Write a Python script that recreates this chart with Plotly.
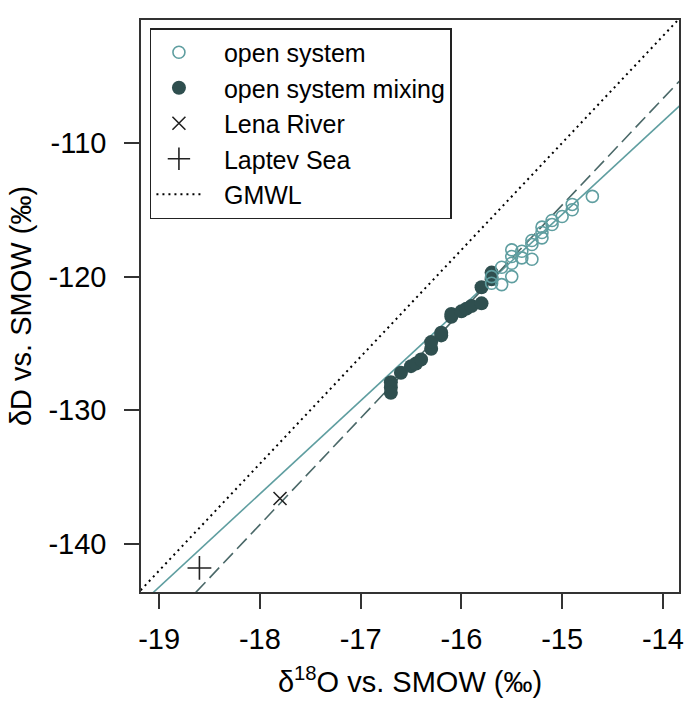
import numpy as np
import plotly.graph_objects as go

# ---- data ----
open_x = [-14.7, -14.9, -14.9, -15.0, -15.1, -15.1, -15.2, -15.2, -15.2, -15.3, -15.3,
          -15.3, -15.4, -15.5, -15.5, -15.4, -15.5, -15.6, -15.5, -15.6, -15.7, -15.7]
open_y = [-114.0, -114.6, -115.0, -115.5, -115.8, -116.1, -116.3, -116.7, -117.1, -117.3, -117.6,
          -118.7, -118.1, -118.0, -118.5, -118.6, -119.0, -119.3, -120.0, -120.6, -120.0, -120.5]

mix_x = [-16.7, -16.7, -16.7, -16.6, -16.5, -16.45, -16.4, -16.3, -16.3, -16.2, -16.2,
         -16.1, -16.1, -16.0, -15.95, -15.9, -15.8, -15.8, -15.7, -15.7]
mix_y = [-127.9, -128.3, -128.7, -127.2, -126.7, -126.5, -126.2, -125.4, -124.9, -124.4, -124.2,
         -123.0, -122.8, -122.6, -122.4, -122.2, -122.0, -120.8, -119.7, -120.2]

lena_x = [-17.8]
lena_y = [-136.6]
laptev_x = [-18.6]
laptev_y = [-141.8]

# lines: (slope, intercept)
gmwl = (8.0, 10.0)
open_fit = (6.97, -10.8)
mix_fit = (7.97, 4.9)
line_x = np.array([-20.0, -13.0])

x_ticks = [-19, -18, -17, -16, -15, -14]
x_ticklabels = ["-19", "-18", "-17", "-16", "-15", "-14"]
y_ticks = [-110, -120, -130, -140]
y_ticklabels = ["-110", "-120", "-130", "-140"]

# ---- styles ----
TEAL = "#5f9ea0"
DARK = "#2f4f4f"
DASH = "#4a6868"
FONT = "Liberation Sans, Arial, sans-serif"
PAD = "\u2002\u2009"  # small lead-in so legend text sits where the reference has it

fig = go.Figure()

fig.add_trace(go.Scatter(x=line_x, y=gmwl[0] * line_x + gmwl[1], mode="lines",
                         line=dict(color="black", width=2, dash="2px,4px"),
                         name=PAD + "GMWL", legendrank=5))
fig.add_trace(go.Scatter(x=line_x, y=open_fit[0] * line_x + open_fit[1], mode="lines",
                         line=dict(color=TEAL, width=1.6), showlegend=False))
fig.add_trace(go.Scatter(x=line_x, y=mix_fit[0] * line_x + mix_fit[1], mode="lines",
                         line=dict(color=DASH, width=1.6, dash="14px,6px"), showlegend=False))

fig.add_trace(go.Scatter(x=mix_x, y=mix_y, mode="markers", name=PAD + "open system mixing",
                         marker=dict(symbol="circle", size=14, color=DARK),
                         legendrank=2))
fig.add_trace(go.Scatter(x=open_x, y=open_y, mode="markers", name=PAD + "open system",
                         marker=dict(symbol="circle-open", size=12, color=TEAL,
                                     line=dict(width=1.6, color=TEAL)),
                         legendrank=1))
fig.add_trace(go.Scatter(x=lena_x, y=lena_y, mode="markers", name=PAD + "Lena River",
                         marker=dict(symbol="x-thin-open", size=13, color="#222",
                                     line=dict(width=1.6, color="#222")),
                         legendrank=3))
fig.add_trace(go.Scatter(x=laptev_x, y=laptev_y, mode="markers", name=PAD + "Laptev Sea",
                         marker=dict(symbol="cross-thin-open", size=17, color="#222",
                                     line=dict(width=1.6, color="#222")),
                         legendrank=4))

axis_common = dict(showgrid=False, zeroline=False, showline=True, mirror=True,
                   linecolor="#333", linewidth=1.5, ticks="outside", ticklen=15,
                   tickwidth=1.5, tickcolor="#333",
                   tickfont=dict(family=FONT, size=29, color="black"),
                   title_font=dict(family=FONT, size=29, color="black"))

fig.update_xaxes(range=[-19.18, -13.84], tickvals=x_ticks, ticktext=x_ticklabels,
                 ticklabelstandoff=5,
                 title_text="δ<sup>18</sup>O vs. SMOW (‰)", title_standoff=18, **axis_common)
fig.update_yaxes(range=[-143.6, -100.8], tickvals=y_ticks, ticktext=y_ticklabels,
                 ticklabelstandoff=12,
                 title_text="δD vs. SMOW (‰)", title_standoff=8, **axis_common)

fig.update_layout(
    width=689, height=704,
    margin=dict(l=141, r=5, t=20, b=112),
    plot_bgcolor="white", paper_bgcolor="white",
    font=dict(family=FONT, size=25, color="black"),
    legend=dict(x=0.0166, y=0.986, xanchor="left", yanchor="top",
                bgcolor="white", bordercolor="#222", borderwidth=1.5,
                font=dict(family=FONT, size=25, color="black"),
                itemwidth=45, tracegroupgap=0),
    showlegend=True,
)

fig.write_html("out.html")
